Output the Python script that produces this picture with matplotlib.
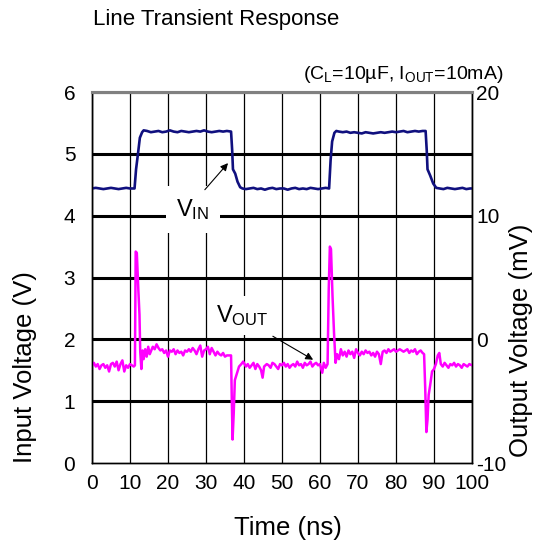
import numpy as np
import matplotlib
matplotlib.use('Agg')
import matplotlib.pyplot as plt

plt.rcParams['font.family'] = ['Liberation Sans', 'DejaVu Sans']
plt.rcParams['mathtext.fontset'] = 'custom'
plt.rcParams['mathtext.rm'] = 'Liberation Sans'
plt.rcParams['mathtext.it'] = 'Liberation Sans:italic'
plt.rcParams['axes.unicode_minus'] = False

# Input voltage (V) versus time (ns)
vin_t = [0, 1, 2, 3, 4, 5, 6, 7, 8, 9, 10, 11.2, 11.6, 12.2, 12.6, 13.2, 13.6,
         14.5, 15.5, 16.5, 17.5, 18.5, 19.5, 20.5, 21.5, 22.5, 23.5, 24.5, 25.5,
         26.5, 27.5, 28.5, 29.5, 30.5, 31.5, 32.5, 33.5, 34.5, 35.5, 36.6,
         36.9, 37.1, 37.7, 38.3, 39.0, 39.6,
         40.5, 41.5, 42.5, 43.5, 44.5, 45.5, 46.5, 47.5, 48.5, 49.5, 50.5, 51.5,
         52.5, 53.5, 54.5, 55.5, 56.5, 57.5, 58.5, 59.5, 60.5, 61.5, 62.4,
         62.8, 63.2, 63.8, 64.3, 65, 66, 67, 68, 69, 70, 71, 72, 73, 74, 75, 76,
         77, 78, 79, 80, 81, 82, 83, 84, 85, 86, 87, 87.8,
         88.1, 88.3, 89.0, 89.8, 90.6, 91.5, 92.5, 93.5, 94.5, 95.5, 96.5, 97.5,
         98.5, 99.5, 100]
vin_v = [4.44, 4.45, 4.44, 4.43, 4.44, 4.45, 4.44, 4.43, 4.44, 4.45, 4.44, 4.44,
         4.75, 5.05, 5.26, 5.35, 5.38,
         5.37, 5.35, 5.36, 5.37, 5.35, 5.36, 5.38, 5.36, 5.35, 5.37, 5.36, 5.35,
         5.36, 5.37, 5.36, 5.38, 5.36, 5.35, 5.36, 5.37, 5.36, 5.37, 5.36,
         5.05, 4.75, 4.68, 4.55, 4.46, 4.44,
         4.43, 4.44, 4.45, 4.43, 4.44, 4.42, 4.44, 4.45, 4.43, 4.44, 4.44, 4.42,
         4.44, 4.45, 4.43, 4.44, 4.43, 4.45, 4.44, 4.43, 4.44, 4.45, 4.44,
         4.90, 5.20, 5.34, 5.37, 5.36, 5.35, 5.36, 5.34, 5.35, 5.34, 5.33, 5.35,
         5.34, 5.33, 5.34, 5.35, 5.34, 5.35, 5.36, 5.35, 5.36, 5.37, 5.35, 5.36,
         5.37, 5.36, 5.37, 5.37,
         5.05, 4.75, 4.65, 4.52, 4.45, 4.44, 4.43, 4.45, 4.44, 4.43, 4.44, 4.45,
         4.43, 4.44, 4.44]

# Output voltage (mV) versus time (ns)
vout_t = [0, 0.5, 1, 1.5, 2, 2.5, 3, 3.5, 4, 4.5, 5, 5.5, 6, 6.5, 7, 7.5, 8, 8.5,
          9, 9.5, 10, 10.5, 11, 11.3, 11.5, 11.8, 12.2, 12.5, 12.7, 13.0, 13.3,
          13.6, 14.0, 14.4, 14.8, 15.2, 15.6, 16.0, 16.5, 17.0, 17.5, 18.0, 18.5,
          19.0, 19.5, 20.0, 20.5, 21.0, 21.5, 22, 22.5, 23, 23.5, 24, 24.5, 25,
          25.5, 26, 26.5, 27, 27.5, 28, 28.5, 29, 29.5, 30, 30.5, 31, 31.5, 32,
          32.5, 33, 33.5, 34, 34.5, 35, 35.5, 36, 36.6, 36.8, 37.0, 37.3, 37.6,
          38.2, 38.7, 39.3, 39.8,
          40.5, 41, 41.5, 42, 42.5, 43, 43.5, 44, 44.5, 44.9, 45.3, 46, 46.5, 47,
          47.5, 48, 48.5, 49, 49.5, 50, 50.5, 51, 51.5, 52, 52.5, 53, 53.5, 54,
          54.5, 55, 55.5, 56, 56.5, 57, 57.5, 58, 58.5, 59, 59.5, 60, 60.6, 61,
          61.5, 62.0, 62.3, 62.6, 62.9, 63.3, 63.7, 64.1, 64.5, 65, 65.5, 66,
          66.5, 67, 67.5, 68, 68.5, 69, 69.5, 70, 70.5, 71, 71.5, 72, 72.5, 73,
          73.5, 74, 74.5, 75, 75.5, 76, 76.5, 77, 77.5, 78, 78.5, 79, 79.5, 80,
          80.5, 81, 81.5, 82, 82.5, 83, 83.5, 84, 84.5, 85, 85.5, 86, 86.5, 87,
          87.4, 87.7, 88.0, 88.3, 88.6, 89, 89.5, 90, 90.5, 91, 91.4, 91.8,
          92.3, 92.8, 93.3, 93.8, 94.3, 94.8, 95.3, 95.8, 96.3, 96.8, 97.3, 97.8,
          98.3, 98.8, 99.3, 100]
vout_v = [-2.1, -1.9, -2.2, -2.0, -2.4, -2.1, -2.0, -2.3, -2.1, -2.6, -2.0, -1.9,
          -2.2, -1.8, -2.5, -2.0, -1.7, -2.6, -2.1, -2.3, -2.0, -2.1, -2.2, -2.1,
          7.1, 7.0, 4.0, 2.0, -1.0, -2.4, -0.9,
          -1.6, -0.8, -1.4, -0.6, -1.2, -0.9, -0.6, -0.8, -0.4, -0.7, -0.9, -0.8,
          -1.1, -0.9, -1.4, -0.9, -1.0, -0.8, -1.2, -0.9, -1.1, -1.0, -1.3, -0.9,
          -1.0, -0.8, -1.0, -0.7, -0.9, -1.2, -0.8, -0.5, -1.4, -0.9, -0.8, -0.6,
          -1.2, -0.7, -1.0, -1.3, -1.0, -1.2, -1.3, -1.1, -1.4, -1.3, -1.3, -1.3,
          -5.0, -8.1, -6.0, -3.3, -2.7, -2.2, -2.0, -1.8,
          -2.2, -2.0, -2.3, -2.1, -1.9, -2.4, -2.0, -2.2, -2.5, -3.1, -2.2, -2.0,
          -2.1, -2.3, -1.9, -2.0, -2.2, -2.4, -2.0, -2.1, -1.9, -2.2, -2.0, -2.3,
          -2.1, -2.0, -2.2, -1.8, -2.1, -2.0, -2.3, -1.9, -2.1, -2.0, -1.8, -2.2,
          -2.0, -1.9, -2.1, -2.0, -2.7, -1.9, -2.3, -2.0, 4.0, 7.5, 7.3, 3.5, 0.5,
          -1.9, -1.2, -1.6, -0.8, -1.3, -1.0, -1.4, -0.9, -1.2, -1.0, -1.5, -0.8,
          -1.1, -1.3, -1.0, -1.2, -0.9, -1.1, -1.0, -1.3, -1.1, -1.4, -1.0, -1.2,
          -2.0, -1.0, -0.9, -1.1, -0.8, -1.0, -0.9, -0.8, -1.0, -0.9, -0.8, -0.9,
          -1.0, -0.9, -0.8, -1.1, -0.9, -1.0, -0.8, -1.2, -1.0, -0.9, -1.1,
          -1.2, -4.0, -7.5, -6.5, -4.5, -3.7, -2.6, -2.4, -2.0, -1.3, -1.1, -2.0,
          -2.2, -1.9, -2.1, -2.3, -2.0, -2.1, -1.9, -2.2, -2.0, -2.1, -2.3, -2.0,
          -2.1, -2.2, -2.0, -2.1]

x_ticks = [0, 10, 20, 30, 40, 50, 60, 70, 80, 90, 100]
left_ticks = [0, 1, 2, 3, 4, 5, 6]
right_ticks = [-10, 0, 10, 20]

fig = plt.figure(figsize=(5.42, 5.51), dpi=100)
ax = fig.add_axes([0.1697, 0.1597, 0.7011, 0.6733])
ax2 = ax.twinx()

ax.plot(vin_t, vin_v, color='#10107f', lw=1.9, zorder=3)
ax2.plot(vout_t, vout_v, color='#ff00ff', lw=1.8)

ax.set_xlim(0, 100)
ax.set_ylim(0, 6)
ax2.set_ylim(-10, 20)
ax.set_xticks(x_ticks)
ax.set_yticks(left_ticks)
ax2.set_yticks(right_ticks)

ax.xaxis.grid(True, color='black', lw=0.9)
ax.yaxis.grid(True, color='black', lw=2.2)
ax.get_ygridlines()[0].set_visible(False)

for a in (ax, ax2):
    for s in a.spines.values():
        s.set_linewidth(1.0)
        s.set_color('black')
    a.spines['top'].set_color('#808080')
    a.spines['top'].set_linewidth(2.2)

ax.tick_params(axis='both', length=0, labelsize=15)
ax.tick_params(axis='y', pad=12)
ax.tick_params(axis='x', pad=8)
ax2.tick_params(axis='y', length=0, labelsize=15, pad=3)

# labels with white boxes
ax.text(26.6, 4.1, 'V$_{\\mathrm{IN}}$', fontsize=17, ha='center', va='center',
        zorder=5, bbox=dict(boxstyle='square,pad=0.45', fc='white', ec='none'))
ax.text(39.5, 2.39, 'V$_{\\mathrm{OUT}}$', fontsize=17, ha='center', va='center',
        zorder=5, bbox=dict(boxstyle='square,pad=0.3', fc='white', ec='none'))
arrow = dict(arrowstyle='-|>', color='black', lw=0.8, shrinkA=0, shrinkB=0,
             mutation_scale=11)
ax.annotate('', xy=(35.8, 4.85), xytext=(29.7, 4.42), arrowprops=arrow, zorder=6)
ax.annotate('', xy=(58.2, 1.67), xytext=(47.6, 2.05), arrowprops=arrow, zorder=6)

fig.text(93 / 542, 1 - 19 / 551, 'Line Transient Response', fontsize=16,
         ha='left', va='center')
fig.text(503 / 542, 1 - 75 / 551,
         '(C$_{\\mathrm{L}}$=10µF, I$_{\\mathrm{OUT}}$=10mA)', fontsize=14,
         ha='right', va='center')
fig.text(25 / 542, 1 - 367 / 551, 'Input Voltage (V)', fontsize=18.5,
         rotation=90, ha='center', va='center')
fig.text(521 / 542, 1 - 340 / 551, 'Output Voltage (mV)', fontsize=18.5,
         rotation=90, ha='center', va='center')
fig.text(288 / 542, 1 - 528 / 551, 'Time (ns)', fontsize=18.5,
         ha='center', va='center')

fig.savefig('out.png', dpi=100)
